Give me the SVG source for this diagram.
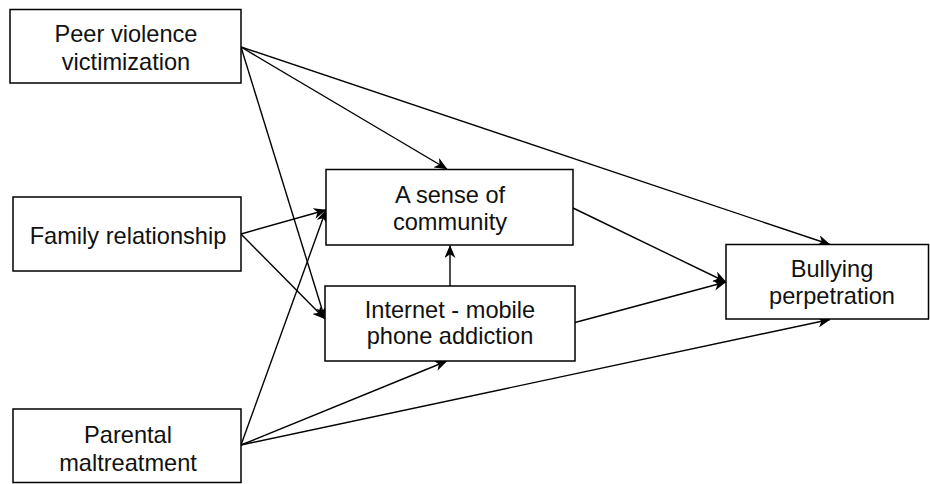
<svg xmlns="http://www.w3.org/2000/svg" width="930" height="484" viewBox="0 0 930 484">
<style>
.box{fill:#fff;stroke:#000;stroke-width:1.5}
.t{font-family:"Liberation Sans",Arial,sans-serif;font-size:23.6px;fill:#111;text-anchor:middle}
.c{fill:none;stroke:#000;stroke-width:1.4;marker-end:url(#ah)}
</style>
<defs>
<marker id="ah" viewBox="0 0 13 11" refX="12.5" refY="5.5" markerWidth="13" markerHeight="11" markerUnits="userSpaceOnUse" orient="auto">
<path d="M0,0 L13,5.5 L0,11 L3.8,5.5 Z" fill="#000"/>
</marker>
</defs>
<rect width="930" height="484" fill="#fff"/>
<g id="connectors">
<line class="c" x1="241" y1="47" x2="447" y2="169"/>
<line class="c" x1="241" y1="47" x2="830" y2="244.5"/>
<line class="c" x1="241" y1="47" x2="325" y2="319"/>
<line class="c" x1="241" y1="234" x2="326" y2="210"/>
<line class="c" x1="241" y1="234" x2="325" y2="319"/>
<line class="c" x1="241" y1="445" x2="326" y2="210"/>
<line class="c" x1="241" y1="445" x2="447" y2="361"/>
<line class="c" x1="241" y1="445" x2="830" y2="319.5"/>
<line class="c" x1="573" y1="208" x2="726" y2="282"/>
<line class="c" x1="575" y1="322.5" x2="726" y2="282"/>
<line class="c" x1="450" y1="286" x2="450" y2="245.5"/>
</g>
<g id="peer">
<rect class="box" x="10" y="9.5" width="231" height="73.5"/>
<text class="t" x="126" y="42">Peer violence</text>
<text class="t" x="126" y="70">victimization</text>
</g>
<g id="family">
<rect class="box" x="13" y="197" width="228" height="74"/>
<text class="t" x="128" y="244">Family relationship</text>
</g>
<g id="parental">
<rect class="box" x="13" y="409" width="228" height="73.5"/>
<text class="t" x="128" y="443">Parental</text>
<text class="t" x="128" y="471">maltreatment</text>
</g>
<g id="community">
<rect class="box" x="326" y="169.5" width="247" height="75.5"/>
<text class="t" x="450" y="203">A sense of</text>
<text class="t" x="450" y="230">community</text>
</g>
<g id="internet">
<rect class="box" x="325" y="286" width="250" height="75"/>
<text class="t" x="450" y="318">Internet - mobile</text>
<text class="t" x="450" y="344">phone addiction</text>
</g>
<g id="bullying">
<rect class="box" x="726" y="244.5" width="202.5" height="74.5"/>
<text class="t" x="832" y="277">Bullying</text>
<text class="t" x="832" y="304">perpetration</text>
</g>
</svg>
